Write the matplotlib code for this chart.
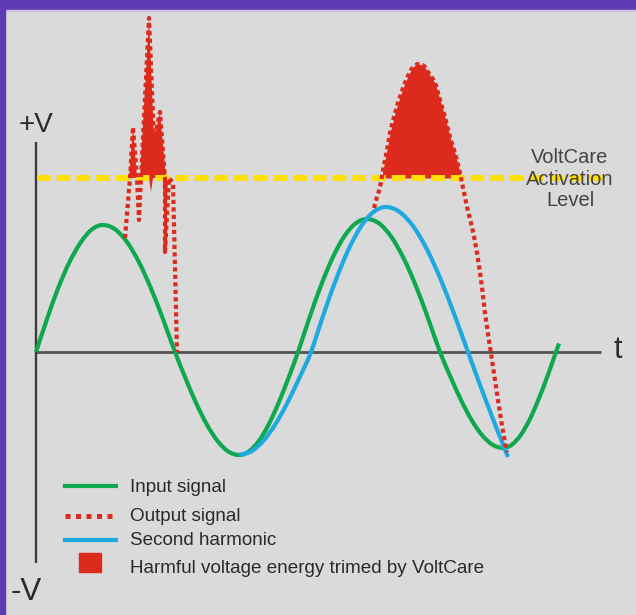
import numpy as np
import matplotlib
matplotlib.use("Agg")
import matplotlib.pyplot as plt
from matplotlib.patches import Rectangle, PathPatch
from matplotlib.lines import Line2D
from matplotlib.path import Path

# ---------------- data (t = time, v = voltage; origin at axis crossing) ----------------
input_t = [0, 11, 22, 33.5, 45, 56, 67, 79, 91, 103, 115, 127, 139,
           149.7, 160.3, 171, 181.7, 192.3, 203, 212.8, 222.7, 232.5, 242.3, 252.2, 262,
           273.5, 285, 296.5, 308, 319.5, 331, 343.2, 355.3, 367.5, 379.7, 391.8, 404,
           414.5, 425, 435.5, 446, 456.5, 467, 475.8, 484.7, 493.5, 502.3, 511.2, 520, 523]
input_v = [0, 33, 63.5, 90, 110, 122.7, 127, 122.7, 110, 89.8, 63.5, 32.9, 0,
           -26.7, -51.5, -72.8, -89.2, -99.5, -103, -99.5, -89.2, -72.8, -51.5, -26.7, 0,
           34.4, 66.5, 94, 115.2, 128.5, 133, 128.5, 115.2, 94, 66.5, 34.4, 0,
           -24.9, -48, -67.9, -83.1, -92.7, -96, -92.7, -83.1, -67.9, -48, -24.9, 0, 8.5]

harmonic_t = [203, 215, 227, 239, 251, 263, 275, 287.5, 300, 312.5, 325, 337.5, 350,
              363.7, 377.3, 391, 404.7, 418.3, 432, 442, 452, 462, 472]
harmonic_v = [-103, -99.5, -89.2, -72.8, -51.5, -26.7, 0, 37.5, 72.5, 102.5, 125.6, 140, 145,
              140, 125.6, 102.5, 72.5, 37.5, 0, -27.5, -54, -80, -105]

# output signal, first (spiky) surge
output1_t = [89, 94, 97, 101, 103, 105, 113, 118, 124, 129, 129, 133, 137, 141]
output1_v = [114, 174, 225, 174, 132, 174, 334, 212, 240, 174, 100, 174, 169, 0]

# output signal, second surge
output2_t = [338, 341, 344, 347, 351, 354, 359, 364, 369, 374,
             378, 383, 388, 392, 399, 404, 409, 414, 419, 424,
             431, 436, 441, 446, 449, 454, 459, 464, 469, 471]
output2_v = [144, 155, 165, 182, 202, 219, 239, 255, 269, 280,
             286, 288, 286, 280, 269, 252, 235, 215, 199, 179,
             145, 125, 99, 65, 39, 5, -28, -61, -91, -100]

# trimmed spikes of the first surge
spike1_t = [93, 97, 101]
spike1_v = [174, 225, 174]
spike2_t = [104, 113, 118, 124, 130]
spike2_v = [174, 334, 212, 240, 174]
spike3_t = [113, 115, 117]
spike3_v = [174, 160, 174]
spike4_t = [127, 129, 132]
spike4_v = [174, 100, 174]

activation_level = 174
activation_label = ["VoltCare", "Activation", "Level"]
legend_labels = ["Input signal", "Output signal", "Second harmonic",
                 "Harmful voltage energy trimed by VoltCare"]

# ---------------- styling ----------------
W, H = 636, 615
BG = "#dadada"
PURPLE = "#5f3bb6"
GREEN = "#0ea84f"
BLUE = "#1ea9e0"
RED = "#dc2a1c"
YELLOW = "#ffe000"
AXIS = "#3c3c3c"
TXT = "#2a2a2a"
plt.rcParams["font.family"] = ["Liberation Sans", "DejaVu Sans"]

fig = plt.figure(figsize=(W / 100, H / 100), dpi=100, facecolor=BG)
ax = fig.add_axes([0, 0, 1, 1])
ax.set_facecolor(BG)
ax.set_xlim(-36, W - 36)
ax.set_ylim(-(H - 352), 352)
ax.axis("off")


def fx(x):
    return x / W


def fy(y):
    return 1 - y / H


def smooth_path(xs, ys):
    """Smooth curve passing through the given points (Catmull-Rom as Bezier)."""
    p = np.column_stack([xs, ys]).astype(float)
    verts = [p[0]]
    codes = [Path.MOVETO]
    n = len(p)
    for i in range(n - 1):
        p0 = p[i - 1] if i > 0 else p[i]
        p1, p2 = p[i], p[i + 1]
        p3 = p[i + 2] if i + 2 < n else p[i + 1]
        verts += [p1 + (p2 - p0) / 6.0, p2 - (p3 - p1) / 6.0, p2]
        codes += [Path.CURVE4] * 3
    return Path(verts, codes)


# purple frame
fig.patches.append(Rectangle((0, fy(10)), 1, 10 / H, transform=fig.transFigure,
                             color=PURPLE, zorder=0))
fig.patches.append(Rectangle((0, fy(11)), 1, 1.2 / H, transform=fig.transFigure,
                             color="#c9c2df", zorder=0))
fig.patches.append(Rectangle((0, 0), 5 / W, 1, transform=fig.transFigure,
                             color=PURPLE, zorder=0))

# axes lines
ax.plot([0, 0], [210, -211], color=AXIS, lw=1.7, zorder=1, solid_capstyle="butt")
ax.plot([0, 565], [0, 0], color=AXIS, lw=2.0, zorder=1, solid_capstyle="butt", alpha=0.85)

# signals
ax.add_patch(PathPatch(smooth_path(input_t, input_v), fill=False, edgecolor=GREEN,
                       lw=3.0, zorder=2, joinstyle="round", capstyle="butt"))
ax.add_patch(PathPatch(smooth_path(harmonic_t, harmonic_v), fill=False, edgecolor=BLUE,
                       lw=3.0, zorder=3, joinstyle="round", capstyle="butt"))

# trimmed energy
o2t = np.array(output2_t, dtype=float)
o2v = np.array(output2_v, dtype=float)
ax.fill_between(o2t, o2v, activation_level, where=o2v > activation_level,
                interpolate=True, color=RED, lw=0, zorder=4)
for st, sv in [(spike1_t, spike1_v), (spike2_t, spike2_v),
               (spike3_t, spike3_v), (spike4_t, spike4_v)]:
    ax.fill(st, sv, color=RED, lw=0, zorder=4)

# activation level
ax.plot([1, 569], [activation_level, activation_level], color=YELLOW, lw=4.3,
        dashes=(2.3, 1.0), dash_capstyle="butt", zorder=5)

# output signal (dotted)
ax.plot(output1_t, output1_v, color=RED, lw=3.0, dashes=(1.0, 0.8),
        dash_capstyle="butt", zorder=6)
ax.add_patch(PathPatch(smooth_path(output2_t, output2_v), fill=False, edgecolor=RED,
                       lw=3.0, linestyle=(0, (1.0, 0.8)), capstyle="butt", zorder=6))

# axis labels
fig.text(fx(19), fy(132), "+V", fontsize=20, color=TXT, ha="left", va="baseline")
fig.text(fx(11), fy(600), "-V", fontsize=22.5, color=TXT, ha="left", va="baseline")
fig.text(fx(613), fy(358), "t", fontsize=22, color=TXT, ha="left", va="baseline")

for lab, yb in zip(activation_label, [163, 185, 206]):
    fig.text(fx(570), fy(yb), lab, fontsize=14.5, color="#444444", ha="center",
             va="baseline", zorder=7)

# legend (manual)
fig.lines.append(Line2D([fx(65), fx(116)], [fy(486), fy(486)], transform=fig.transFigure,
                        color=GREEN, lw=3.0))
fig.lines.append(Line2D([fx(65), fx(113)], [fy(516), fy(516)], transform=fig.transFigure,
                        color=RED, lw=3.6, dashes=(1.0, 1.1), dash_capstyle="butt"))
fig.lines.append(Line2D([fx(65), fx(116)], [fy(540), fy(540)], transform=fig.transFigure,
                        color=BLUE, lw=3.0))
fig.patches.append(Rectangle((fx(79), fy(572)), 22 / W, 19 / H, transform=fig.transFigure,
                             color=RED))
for lab, yb in zip(legend_labels, [492, 521, 545, 573]):
    fig.text(fx(130), fy(yb), lab, fontsize=13.6, color=TXT, ha="left", va="baseline")

fig.savefig("out.png", dpi=100, facecolor=BG)
